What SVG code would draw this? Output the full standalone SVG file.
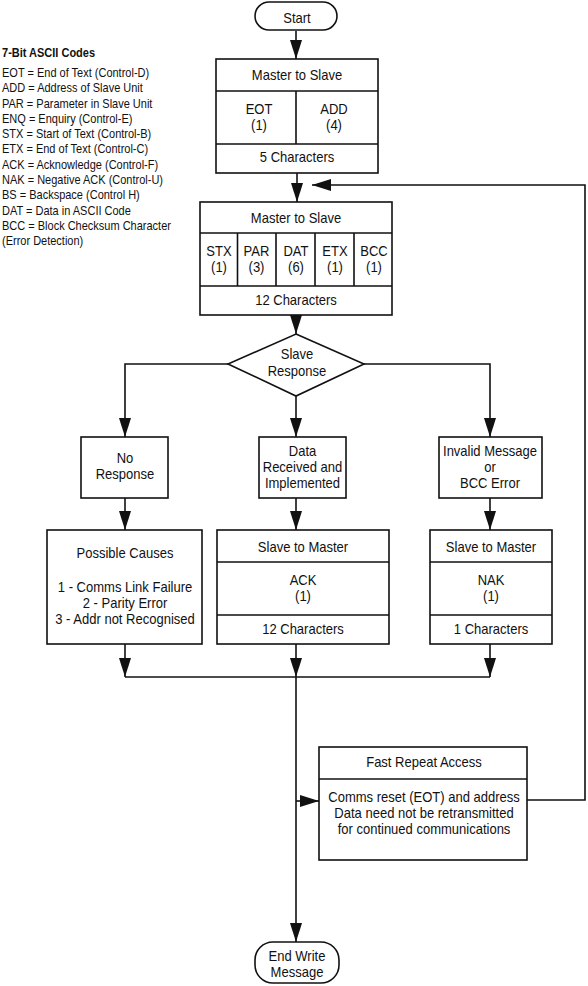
<svg xmlns="http://www.w3.org/2000/svg" width="588" height="986" viewBox="0 0 588 986">
<style>
text{font-family:"Liberation Sans",Arial,sans-serif;fill:#111}
.m text{font-size:14px;text-anchor:middle}
.box{fill:#fff;stroke:#111;stroke-width:1.6}
.div{stroke:#111;stroke-width:1.6;fill:none}
.c{stroke:#111;stroke-width:1.6;fill:none}
.lg{font-size:12.5px}
.lgb{font-size:12.5px;font-weight:bold}
</style>
<defs>
<marker id="ah" viewBox="0 0 19 12" refX="19" refY="6" markerWidth="19" markerHeight="12" markerUnits="userSpaceOnUse" orient="auto">
<path d="M0,0 L19,6 L0,12 z" fill="#111"/>
</marker>
</defs>
<rect width="588" height="986" fill="#fff"/>

<g id="legend" transform="scale(0.88 1)">
<text class="lgb" x="2.3" y="57">7-Bit ASCII Codes</text>
<text class="lg" x="2.3" y="77">EOT = End of Text (Control-D)</text>
<text class="lg" x="2.3" y="92.3">ADD = Address of Slave Unit</text>
<text class="lg" x="2.3" y="107.6">PAR = Parameter in Slave Unit</text>
<text class="lg" x="2.3" y="122.9">ENQ = Enquiry (Control-E)</text>
<text class="lg" x="2.3" y="138.2">STX = Start of Text (Control-B)</text>
<text class="lg" x="2.3" y="153.5">ETX = End of Text (Control-C)</text>
<text class="lg" x="2.3" y="168.8">ACK = Acknowledge (Control-F)</text>
<text class="lg" x="2.3" y="184.1">NAK = Negative ACK (Control-U)</text>
<text class="lg" x="2.3" y="199.4">BS = Backspace (Control H)</text>
<text class="lg" x="2.3" y="214.7">DAT = Data in ASCII Code</text>
<text class="lg" x="2.3" y="230">BCC = Block Checksum Character</text>
<text class="lg" x="2.3" y="245.3">(Error Detection)</text>
</g>

<g id="connectors" marker-end="url(#ah)">
<path class="c" d="M296,31 V59"/>
<path class="c" d="M297,173 V202"/>
<path class="c" d="M296,315 V334"/>
<path class="c" d="M228,364 H125 V437"/>
<path class="c" d="M296,396 V437"/>
<path class="c" d="M364,364 H490 V437"/>
<path class="c" d="M125,498 V530"/>
<path class="c" d="M296,498 V530"/>
<path class="c" d="M490,498 V530"/>
<path class="c" d="M125,644 V677"/>
<path class="c" d="M296,644 V677"/>
<path class="c" d="M490,644 V677"/>
<path class="c" d="M125,677 H490" marker-end="none"/>
<path class="c" d="M296,677 V942"/>
<path class="c" d="M296,801 H319"/>
<path class="c" d="M525,800 H585 V185 H312"/>
</g>

<g id="start" class="m">
<rect class="box" x="255" y="2" width="82" height="28" rx="14"/>
<g transform="translate(297 0) scale(0.93 1)"><text x="0" y="23">Start</text></g>
</g>

<g id="box1" class="m">
<rect class="box" x="216" y="59" width="162" height="114"/>
<path class="div" d="M216,91 H378 M216,144 H378 M296,91 V144"/>
<g transform="translate(297 0) scale(0.93 1)"><text x="0" y="80">Master to Slave</text><text x="0" y="162">5 Characters</text></g>
<g transform="translate(259 0) scale(0.93 1)"><text x="0" y="114">EOT</text><text x="0" y="130">(1)</text></g>
<g transform="translate(334 0) scale(0.93 1)"><text x="0" y="114">ADD</text><text x="0" y="130">(4)</text></g>
</g>

<g id="box2" class="m">
<rect class="box" x="200" y="202" width="192" height="113"/>
<path class="div" d="M200,233 H392 M200,286 H392 M237.5,233 V286 M276,233 V286 M315,233 V286 M354,233 V286"/>
<g transform="translate(296 0) scale(0.93 1)"><text x="0" y="223">Master to Slave</text><text x="0" y="305">12 Characters</text></g>
<g transform="translate(219 0) scale(0.93 1)"><text x="0" y="256">STX</text><text x="0" y="272">(1)</text></g>
<g transform="translate(256.5 0) scale(0.93 1)"><text x="0" y="256">PAR</text><text x="0" y="272">(3)</text></g>
<g transform="translate(296 0) scale(0.93 1)"><text x="0" y="256">DAT</text><text x="0" y="272">(6)</text></g>
<g transform="translate(335 0) scale(0.93 1)"><text x="0" y="256">ETX</text><text x="0" y="272">(1)</text></g>
<g transform="translate(374 0) scale(0.93 1)"><text x="0" y="256">BCC</text><text x="0" y="272">(1)</text></g>
</g>

<g id="decision" class="m">
<polygon class="box" points="296,334 364,364 296,396 228,364"/>
<g transform="translate(297 0) scale(0.93 1)"><text x="0" y="359">Slave</text><text x="0" y="376">Response</text></g>
</g>

<g id="noresponse" class="m">
<rect class="box" x="81" y="437" width="87" height="61"/>
<g transform="translate(125 0) scale(0.93 1)"><text x="0" y="463">No</text><text x="0" y="479">Response</text></g>
</g>

<g id="datareceived" class="m">
<rect class="box" x="259" y="437" width="87" height="61"/>
<g transform="translate(302.5 0) scale(0.93 1)"><text x="0" y="456">Data</text><text x="0" y="472">Received and</text><text x="0" y="488">Implemented</text></g>
</g>

<g id="invalid" class="m">
<rect class="box" x="439" y="437" width="103" height="61"/>
<g transform="translate(490 0) scale(0.93 1)"><text x="0" y="456">Invalid Message</text><text x="0" y="472">or</text><text x="0" y="488">BCC Error</text></g>
</g>

<g id="causes" class="m">
<rect class="box" x="47" y="530" width="155" height="114"/>
<g transform="translate(125 0) scale(0.93 1)"><text x="0" y="558">Possible Causes</text><text x="0" y="592">1 - Comms Link Failure</text><text x="0" y="608">2 - Parity Error</text><text x="0" y="624">3 - Addr not Recognised</text></g>
</g>

<g id="ack" class="m">
<rect class="box" x="217" y="530" width="172" height="114"/>
<path class="div" d="M217,562 H389 M217,615 H389"/>
<g transform="translate(303 0) scale(0.93 1)"><text x="0" y="552">Slave to Master</text><text x="0" y="585">ACK</text><text x="0" y="601">(1)</text><text x="0" y="634">12 Characters</text></g>
</g>

<g id="nak" class="m">
<rect class="box" x="430" y="530" width="122" height="114"/>
<path class="div" d="M430,562 H552 M430,615 H552"/>
<g transform="translate(491 0) scale(0.93 1)"><text x="0" y="552">Slave to Master</text><text x="0" y="585">NAK</text><text x="0" y="601">(1)</text><text x="0" y="634">1 Characters</text></g>
</g>

<g id="fastrepeat" class="m">
<rect class="box" x="319" y="747" width="208" height="113"/>
<path class="div" d="M319,779 H527"/>
<g transform="translate(424 0) scale(0.93 1)"><text x="0" y="767">Fast Repeat Access</text><text x="0" y="802">Comms reset (EOT) and address</text><text x="0" y="818">Data need not be retransmitted</text><text x="0" y="834">for continued communications</text></g>
</g>

<g id="end" class="m">
<rect class="box" x="255" y="942" width="84" height="41" rx="18"/>
<g transform="translate(297 0) scale(0.93 1)"><text x="0" y="961">End Write</text><text x="0" y="977">Message</text></g>
</g>
</svg>
